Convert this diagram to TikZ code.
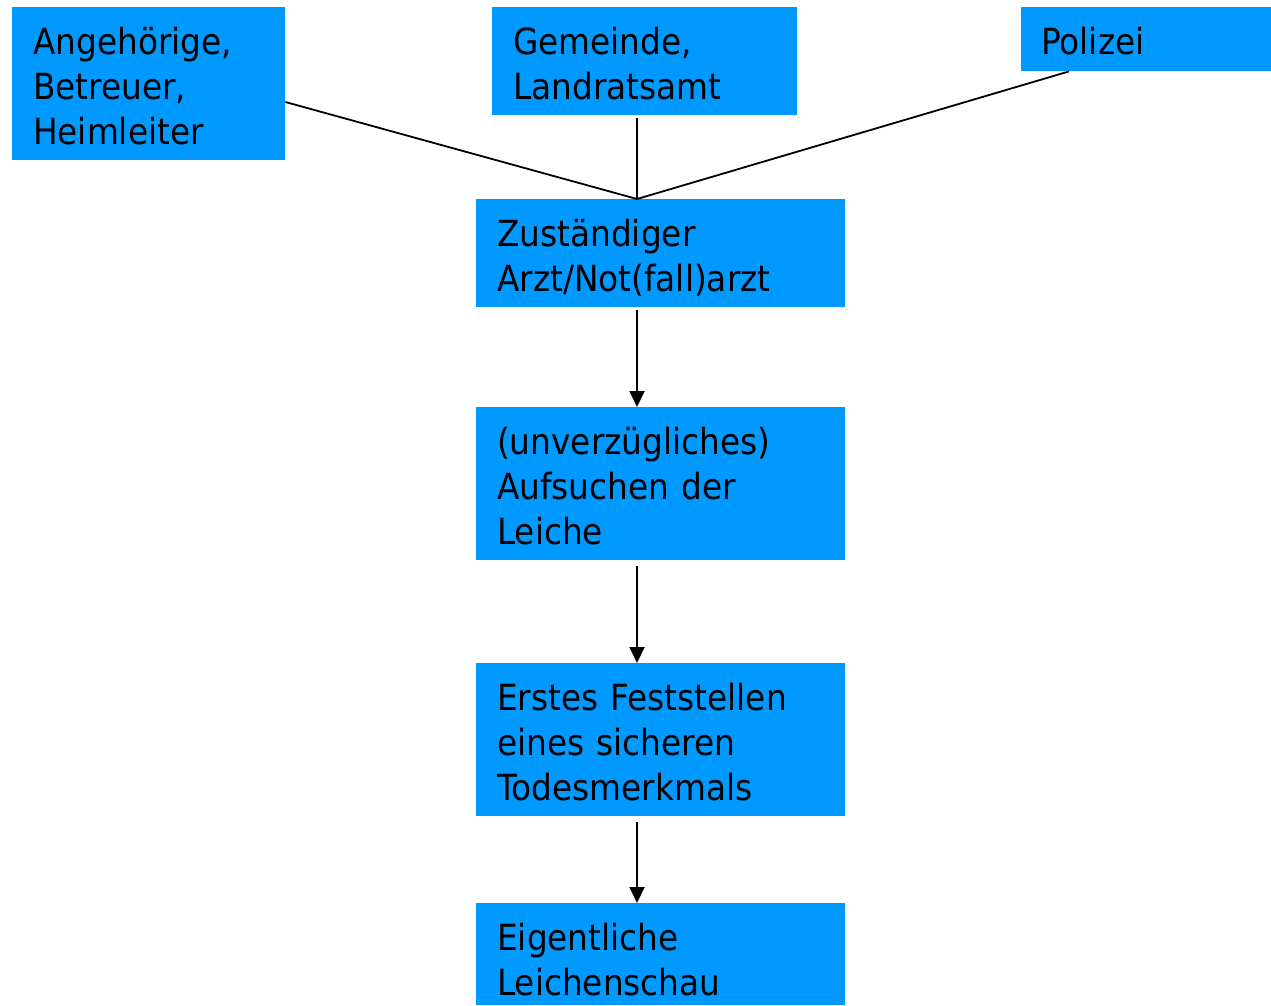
\documentclass[tikz,border=0pt]{standalone}
\usepackage{fontspec}
\setmainfont{DejaVu Sans}[FakeStretch=0.91]
\usetikzlibrary{arrows.meta,calc}
\definecolor{boxblue}{HTML}{0099FF}
\begin{document}
\begin{tikzpicture}[x=1pt,y=-1pt,
  box/.style={fill=boxblue, draw=none, inner sep=0, anchor=north west},
  txt/.style={anchor=base west, inner sep=0, text width=360pt, align=left,
    font=\fontsize{36}{45}\selectfont},
  conn/.style={line width=1.8pt, black},
  arr/.style={line width=1.8pt, black, -{Triangle[width=15pt,length=16pt]}}]
\useasboundingbox (0,0) rectangle (1271,1005);
% boxes
\node[box, minimum width=273pt, minimum height=153pt] (a) at (12,7) {};
\node[box, minimum width=305pt, minimum height=108pt] (g) at (492,7) {};
\node[box, minimum width=250pt, minimum height=64pt] (p) at (1021,7) {};
\node[box, minimum width=369pt, minimum height=108pt] (z) at (476,199) {};
\node[box, minimum width=369pt, minimum height=153pt] (u) at (476,407) {};
\node[box, minimum width=369pt, minimum height=153pt] (e) at (476,663) {};
\node[box, minimum width=369pt, minimum height=102pt] (l) at (476,903) {};
% texts
\node[txt] (ta) at ($(a.north west)+(21,47)$) {Angehörige,\\Betreuer,\\Heimleiter};
\node[txt] (tg) at ($(g.north west)+(21,47)$) {Gemeinde,\\Landratsamt};
\node[txt] (tp) at ($(p.north west)+(20,47)$) {Polizei};
\node[txt] (tz) at ($(z.north west)+(21,47)$) {Zuständiger\\Arzt/Not(fall)arzt};
\node[txt] (tu) at ($(u.north west)+(21,47)$) {(unverzügliches)\\Aufsuchen der\\Leiche};
\node[txt] (te) at ($(e.north west)+(21,47)$) {Erstes Feststellen\\eines sicheren\\Todesmerkmals};
\node[txt] (tl) at ($(l.north west)+(21,47)$) {Eigentliche\\Leichenschau};
% connectors
\coordinate (j) at ($(z.north west)+(161,0)$);
\draw[conn] ($(a.north east)+(0,95)$) -- (j);
\draw[conn] ($(g.south west)+(145,3)$) -- (j);
\draw[conn] ($(p.south west)+(48,0)$) -- (j);
\draw[arr] ($(z.south west)+(161,3)$) -- ($(u.north west)+(161,0)$);
\draw[arr] ($(u.south west)+(161,6)$) -- ($(e.north west)+(161,0)$);
\draw[arr] ($(e.south west)+(161,6)$) -- ($(l.north west)+(161,0)$);
\end{tikzpicture}
\end{document}
